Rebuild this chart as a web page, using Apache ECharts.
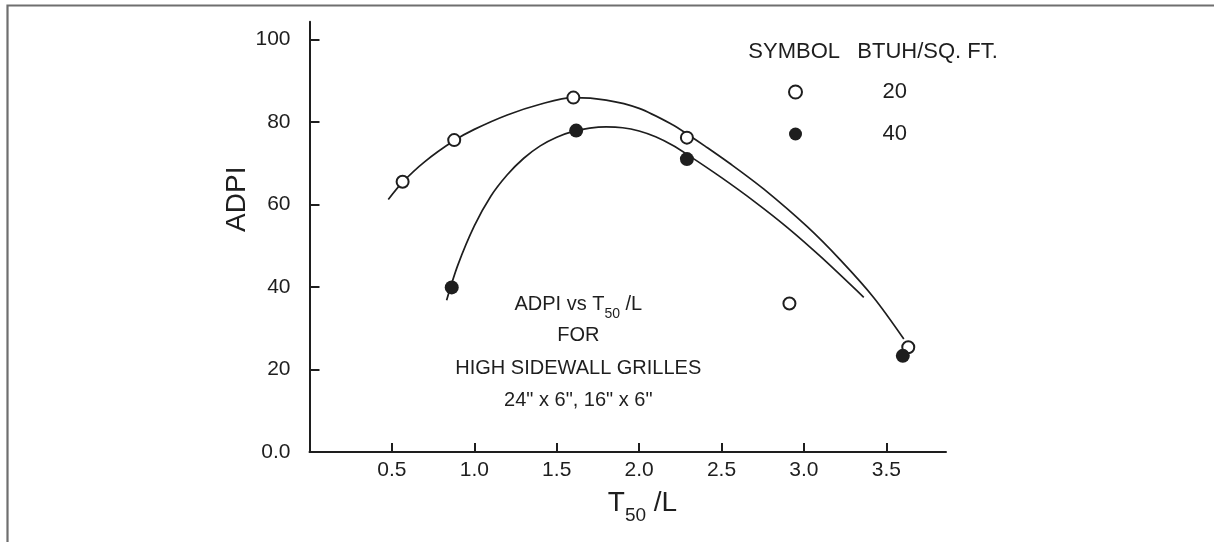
<!DOCTYPE html>
<html><head><meta charset="utf-8">
<script src="https://cdn.jsdelivr.net/npm/echarts@6/dist/echarts.min.js"></script>
<style>html,body{margin:0;padding:0;background:#fff}#c{width:1214px;height:542px}</style>
</head><body><div id="c"></div>
<script>
// ---- data ----
const xTicks = [0.5, 1.0, 1.5, 2.0, 2.5, 3.0, 3.5];
const xTickLabels = ['0.5', '1.0', '1.5', '2.0', '2.5', '3.0', '3.5'];
const yTicks = [0, 20, 40, 60, 80, 100];
const yTickLabels = ['0.0', '20', '40', '60', '80', '100'];
const seriesNames = ['20', '40'];
// measured points: 20 BTUH/sq.ft (open) and 40 BTUH/sq.ft (filled)
const open20 = [[0.565, 65.5], [0.878, 75.6], [1.601, 85.9], [2.290, 76.2], [2.912, 36.0], [3.633, 25.4]];
const filled40 = [[0.863, 39.9], [1.618, 77.9], [2.290, 71.0], [3.600, 23.3]];
// hand-drawn fitted curves
const curve20 = [[0.478, 61.2], [0.565, 65.4], [0.70, 70.4], [0.878, 75.5], [1.0, 78.2], [1.2, 81.7], [1.4, 84.3], [1.6, 85.9], [1.8, 85.3], [2.0, 83.3], [2.2, 79.4], [2.3, 76.85], [2.4, 74.15], [2.555, 69.8], [2.757, 63.7], [3.02, 54.6], [3.222, 46.5], [3.424, 37.4], [3.606, 27.4]];
const curve40 = [[0.832, 36.8], [0.90, 45.3], [1.0, 54.8], [1.1, 62.0], [1.2, 67.2], [1.3, 71.2], [1.4, 74.2], [1.5, 76.3], [1.6, 77.7], [1.7, 78.5], [1.8, 78.8], [1.9, 78.6], [2.0, 77.8], [2.1, 76.4], [2.2, 74.4], [2.3, 71.9], [2.5, 66.5], [2.7, 60.7], [2.9, 54.4], [3.1, 47.4], [3.363, 37.5]];
const xMax = 3.862;
const yMax = 104.3;
const yName = 'ADPI';
const legendHeader = ['SYMBOL', 'BTUH/SQ. FT.'];
const noteLines = ['{t|ADPI vs T}{s|50}{t| /L}', 'FOR', 'HIGH SIDEWALL GRILLES', '24" x 6", 16" x 6"'];
const xNameRich = '{t|T}{s|50}{t| /L}';

const FONT = '"Liberation Sans", Arial, Helvetica, sans-serif';
const INK = '#1e1e1e';

const chart = echarts.init(document.getElementById('c'), null, {renderer: 'canvas'});
const option = {
  animation: false,
  backgroundColor: '#fff',
  textStyle: {fontFamily: FONT, color: INK},
  grid: {left: 309.5, right: 268, top: 21.7, bottom: 90, containLabel: false},
  xAxis: {
    type: 'value', min: 0, max: xMax,
    axisLine: {show: true, onZero: false, lineStyle: {color: INK, width: 2}},
    axisTick: {show: true, inside: true, length: 9, lineStyle: {color: INK, width: 2}, customValues: xTicks},
    axisLabel: {show: true, customValues: xTicks, margin: 8, fontSize: 21, color: INK, fontFamily: FONT,
      formatter: v => xTickLabels[xTicks.indexOf(v)] ?? ''},
    splitLine: {show: false}
  },
  yAxis: {
    type: 'value', min: 0, max: yMax,
    axisLine: {show: true, onZero: false, lineStyle: {color: INK, width: 2}},
    axisTick: {show: true, inside: true, length: 10, lineStyle: {color: INK, width: 2}, customValues: yTicks},
    axisLabel: {show: true, customValues: yTicks, margin: 19, fontSize: 21, color: INK, fontFamily: FONT,
      formatter: v => yTickLabels[yTicks.indexOf(v)] ?? ''},
    splitLine: {show: false}
  },
  legend: {
    data: seriesNames,
    orient: 'vertical', left: 788, top: 81, padding: 0,
    itemWidth: 14, itemHeight: 13, itemGap: 20,
    selectedMode: false,
    textStyle: {fontSize: 22, color: INK, fontFamily: FONT, padding: [0, 0, 0, 75]}
  },
  series: [
    {type: 'line', name: 'curve20', data: curve20, smooth: 0.3, showSymbol: false, symbol: 'none',
      lineStyle: {color: INK, width: 1.7}, z: 1, silent: true},
    {type: 'line', name: 'curve40', data: curve40, smooth: 0.3, showSymbol: false, symbol: 'none',
      lineStyle: {color: INK, width: 1.7}, z: 1, silent: true},
    {type: 'scatter', name: seriesNames[0], data: open20, symbol: 'circle', symbolSize: 12,
      itemStyle: {color: '#fff', borderColor: INK, borderWidth: 2, opacity: 1}, z: 3},
    {type: 'scatter', name: seriesNames[1], data: filled40, symbol: 'circle', symbolSize: 14,
      itemStyle: {color: INK, borderColor: INK, borderWidth: 0, opacity: 1}, z: 4}
  ],
  graphic: [
    {type: 'rect', shape: {x: 7.5, y: 5.5, width: 1300, height: 600}, style: {fill: 'none', stroke: '#6f6f6f', lineWidth: 2.2}, silent: true},
    {type: 'text', x: 237.5, y: 199.2, rotation: Math.PI / 2,
      style: {text: yName, fontSize: 28, fontFamily: FONT, fill: INK, align: 'center', verticalAlign: 'middle'}},
    {type: 'text', x: 642.5, y: 507,
      style: {text: xNameRich, fill: INK, fontFamily: FONT, align: 'center', verticalAlign: 'middle',
        rich: {t: {fontSize: 28, fontFamily: FONT, verticalAlign: 'top'}, s: {fontSize: 19, fontFamily: FONT, lineHeight: 36, verticalAlign: 'bottom'}}}},
    {type: 'text', x: 748.3, y: 51.5,
      style: {text: legendHeader[0], fontSize: 22, fontFamily: FONT, fill: INK, align: 'left', verticalAlign: 'middle'}},
    {type: 'text', x: 857.3, y: 51.5,
      style: {text: legendHeader[1], fontSize: 22, fontFamily: FONT, fill: INK, align: 'left', verticalAlign: 'middle'}},
    {type: 'text', x: 578.3, y: 307.8,
      style: {text: noteLines[0], fill: INK, fontFamily: FONT, align: 'center', verticalAlign: 'middle',
        rich: {t: {fontSize: 20, fontFamily: FONT, verticalAlign: 'top'}, s: {fontSize: 14, fontFamily: FONT, lineHeight: 26, verticalAlign: 'bottom'}}}},
    {type: 'text', x: 578.3, y: 335.5,
      style: {text: noteLines[1], fontSize: 20, fontFamily: FONT, fill: INK, align: 'center', verticalAlign: 'middle'}},
    {type: 'text', x: 578.3, y: 368.3,
      style: {text: noteLines[2], fontSize: 20, fontFamily: FONT, fill: INK, align: 'center', verticalAlign: 'middle'}},
    {type: 'text', x: 578.3, y: 400.7,
      style: {text: noteLines[3], fontSize: 20, fontFamily: FONT, fill: INK, align: 'center', verticalAlign: 'middle'}}
  ]
};
chart.setOption(option);
</script>
</body></html>
